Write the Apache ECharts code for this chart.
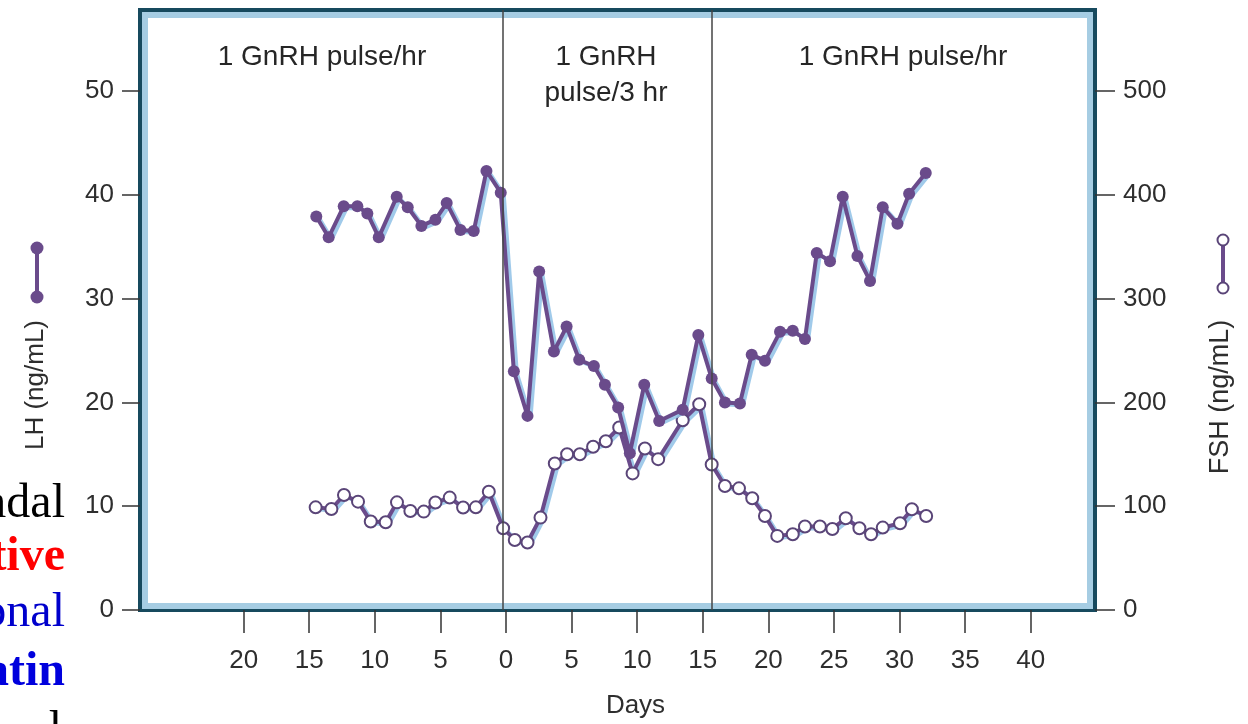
<!DOCTYPE html>
<html>
<head>
<meta charset="utf-8">
<title>LH / FSH response to GnRH pulse frequency</title>
<script src="https://cdn.jsdelivr.net/npm/echarts@6/dist/echarts.min.js"></script>
<style>
  html, body { margin: 0; padding: 0; background: #fff; }
  #chart { width: 1248px; height: 724px; }
</style>
</head>
<body>
<div id="chart"></div>
<script>
// days (negative = before the switch, labelled as positive on the axis)
const lhDays = [-14.46, -13.52, -12.37, -11.33, -10.57, -9.7, -8.33, -7.49, -6.45, -5.38, -4.52, -3.47, -2.46, -1.49, -0.4,
  0.6, 1.64, 2.53, 3.65, 4.62, 5.58, 6.7, 7.54, 8.55, 9.44, 10.54, 11.68, 13.47, 14.66, 15.68,
  16.69, 17.83, 18.73, 19.74, 20.89, 21.86, 22.79, 23.69, 24.7, 25.67, 26.79, 27.75, 28.72, 29.84, 30.73, 32.0]
const lhValues = [37.9, 35.9, 38.9, 38.9, 38.2, 35.9, 39.8, 38.8, 37.0, 37.6, 39.2, 36.6, 36.5, 42.3, 40.2,
  23.0, 18.7, 32.6, 24.9, 27.3, 24.1, 23.5, 21.7, 19.5, 15.1, 21.7, 18.2, 19.3, 26.5, 22.3,
  20.0, 19.9, 24.6, 24.0, 26.8, 26.9, 26.1, 34.4, 33.6, 39.8, 34.1, 31.7, 38.8, 37.2, 40.1, 42.1]

const fshDays = [-14.51, -13.31, -12.35, -11.28, -10.31, -9.17, -8.31, -7.29, -6.27, -5.38, -4.29, -3.27, -2.3, -1.31, -0.22,
  0.67, 1.64, 2.63, 3.72, 4.66, 5.63, 6.64, 7.61, 8.63, 9.65, 10.59, 11.6, 13.47, 14.73, 15.68,
  16.69, 17.76, 18.77, 19.74, 20.68, 21.86, 22.79, 23.93, 24.88, 25.9, 26.94, 27.83, 28.72, 30.04, 30.94, 32.03]
const fshValues = [98.9, 97.3, 110.8, 104.4, 85.2, 84.5, 103.7, 95.4, 94.8, 103.5, 108.3, 98.7, 98.9, 114.0, 78.8,
  67.5, 65.0, 89.0, 141.2, 150.1, 150.1, 157.3, 162.6, 175.8, 131.6, 155.6, 145.3, 182.8, 198.2, 140.2,
  119.4, 117.2, 107.6, 90.6, 71.4, 73.0, 80.4, 80.4, 78.1, 88.4, 78.8, 73.0, 79.4, 83.6, 97.0, 90.6]

// tick labels
const dayTicks = [-20, -15, -10, -5, 0, 5, 10, 15, 20, 25, 30, 35, 40]
const lhTicks = [0, 10, 20, 30, 40, 50]
const fshTicks = [0, 100, 200, 300, 400, 500]

// regime boundaries
const switchDays = [-0.23, 15.7]

const purple = '#6a4b8b'
const shadow = 'rgba(150, 196, 232, 0.9)'
const frameDark = '#174a5e'
const frameLight = '#a6cde3'
const font = 'Liberation Sans, Arial, sans-serif'
const serif = 'Liberation Serif, Times New Roman, serif'

const lhData = lhDays.map((d, i) => [d, lhValues[i]])
const fshData = fshDays.map((d, i) => [d, fshValues[i]])

const chart = echarts.init(document.getElementById('chart'))

const options = {
  animation: false,
  backgroundColor: '#fff',
  grid: {
    left: 140,
    right: 153,
    top: 10,
    bottom: 112,
    show: true,
    borderColor: frameDark,
    borderWidth: 4,
    backgroundColor: '#fff'
  },
  xAxis: {
    type: 'value',
    min: -27.9,
    max: 44.9,
    splitLine: { show: false },
    axisLine: { show: false, onZero: false },
    axisTick: {
      show: true,
      customValues: dayTicks,
      length: 23,
      lineStyle: { color: '#333', width: 1.5 }
    },
    axisLabel: {
      customValues: dayTicks,
      formatter: v => String(Math.abs(v)),
      margin: 38,
      fontSize: 26,
      fontFamily: font,
      color: '#2e2e2e'
    },
    name: 'Days',
    nameLocation: 'middle',
    nameGap: 83,
    nameTextStyle: { fontSize: 26, fontFamily: font, color: '#2e2e2e', padding: [0, 0, 0, 36] }
  },
  yAxis: [
    {
      type: 'value',
      min: 0,
      max: 57.8,
      splitLine: { show: false },
      axisLine: { show: false, onZero: false },
      axisTick: {
        show: true,
        customValues: lhTicks,
        length: 18,
        lineStyle: { color: '#333', width: 1.5 }
      },
      axisLabel: {
        customValues: lhTicks,
        margin: 26,
        fontSize: 26,
        fontFamily: font,
        color: '#2e2e2e'
      }
    },
    {
      type: 'value',
      min: 0,
      max: 578,
      position: 'right',
      splitLine: { show: false },
      axisLine: { show: false, onZero: false },
      axisTick: {
        show: true,
        customValues: fshTicks,
        length: 20,
        lineStyle: { color: '#333', width: 1.5 }
      },
      axisLabel: {
        customValues: fshTicks,
        margin: 28,
        fontSize: 26,
        fontFamily: font,
        color: '#2e2e2e'
      }
    }
  ],
  series: [
    {
      name: 'FSH',
      type: 'line',
      yAxisIndex: 1,
      data: fshData,
      symbol: 'circle',
      symbolSize: 12,
      lineStyle: {
        color: purple,
        width: 4,
        shadowColor: shadow,
        shadowOffsetX: 3,
        shadowOffsetY: 2
      },
      itemStyle: { color: '#fff', borderColor: '#5a4578', borderWidth: 2 },
      z: 3
    },
    {
      name: 'LH',
      type: 'line',
      yAxisIndex: 0,
      data: lhData,
      symbol: 'circle',
      symbolSize: 12,
      lineStyle: {
        color: purple,
        width: 4,
        shadowColor: shadow,
        shadowOffsetX: 3,
        shadowOffsetY: 2
      },
      itemStyle: { color: purple },
      markLine: {
        silent: true,
        symbol: 'none',
        label: { show: false },
        lineStyle: { color: '#444', width: 1.5, type: 'solid' },
        data: switchDays.map(d => ({ xAxis: d }))
      },
      z: 4
    }
  ],
  graphic: [
    // inner light band of the frame
    {
      type: 'rect',
      z: 1,
      shape: { x: 145, y: 15, width: 945, height: 591 },
      style: { fill: 'none', stroke: frameLight, lineWidth: 6 }
    },
    // regime labels
    { type: 'text', x: 322, y: 57, style: { text: '1 GnRH pulse/hr', font: '28px ' + font, fill: '#262626', align: 'center', verticalAlign: 'middle' } },
    { type: 'text', x: 606, y: 57, style: { text: '1 GnRH', font: '28px ' + font, fill: '#262626', align: 'center', verticalAlign: 'middle' } },
    { type: 'text', x: 606, y: 93, style: { text: 'pulse/3 hr', font: '28px ' + font, fill: '#262626', align: 'center', verticalAlign: 'middle' } },
    { type: 'text', x: 903, y: 57, style: { text: '1 GnRH pulse/hr', font: '28px ' + font, fill: '#262626', align: 'center', verticalAlign: 'middle' } },
    // axis titles (rotated)
    { type: 'text', x: 36, y: 385, rotation: Math.PI / 2, style: { text: 'LH (ng/mL)', font: '26px ' + font, fill: '#2e2e2e', align: 'center', verticalAlign: 'middle' } },
    { type: 'text', x: 1221, y: 397, rotation: Math.PI / 2, style: { text: 'FSH (ng/mL)', font: '27px ' + font, fill: '#2e2e2e', align: 'center', verticalAlign: 'middle' } },
    // LH key
    { type: 'line', shape: { x1: 37, y1: 248, x2: 37, y2: 297 }, style: { stroke: purple, lineWidth: 4 } },
    { type: 'circle', shape: { cx: 37, cy: 248, r: 6.5 }, style: { fill: purple } },
    { type: 'circle', shape: { cx: 37, cy: 297, r: 6.5 }, style: { fill: purple } },
    // FSH key
    { type: 'line', shape: { x1: 1223, y1: 240, x2: 1223, y2: 288 }, style: { stroke: purple, lineWidth: 4 } },
    { type: 'circle', shape: { cx: 1223, cy: 240, r: 5.5 }, style: { fill: '#fff', stroke: '#5a4578', lineWidth: 2 } },
    { type: 'circle', shape: { cx: 1223, cy: 288, r: 5.5 }, style: { fill: '#fff', stroke: '#5a4578', lineWidth: 2 } },
    // slide text cut off at the left edge
    { type: 'text', x: 65, y: 504, style: { text: 'ndal', font: '48px ' + serif, fill: '#000', align: 'right', verticalAlign: 'middle' } },
    { type: 'text', x: 65, y: 558, style: { text: 'tive', font: 'bold 48px ' + serif, fill: '#ff0000', align: 'right', verticalAlign: 'middle' } },
    { type: 'text', x: 65, y: 613, style: { text: 'onal', font: '48px ' + serif, fill: '#0000cc', align: 'right', verticalAlign: 'middle' } },
    { type: 'text', x: 65, y: 673, style: { text: 'atin', font: 'bold 48px ' + serif, fill: '#0000dd', align: 'right', verticalAlign: 'middle' } },
    { type: 'text', x: 62, y: 731, style: { text: 'l', font: '48px ' + serif, fill: '#000', align: 'right', verticalAlign: 'middle' } }
  ]
}

chart.setOption(options)
</script>
</body>
</html>
